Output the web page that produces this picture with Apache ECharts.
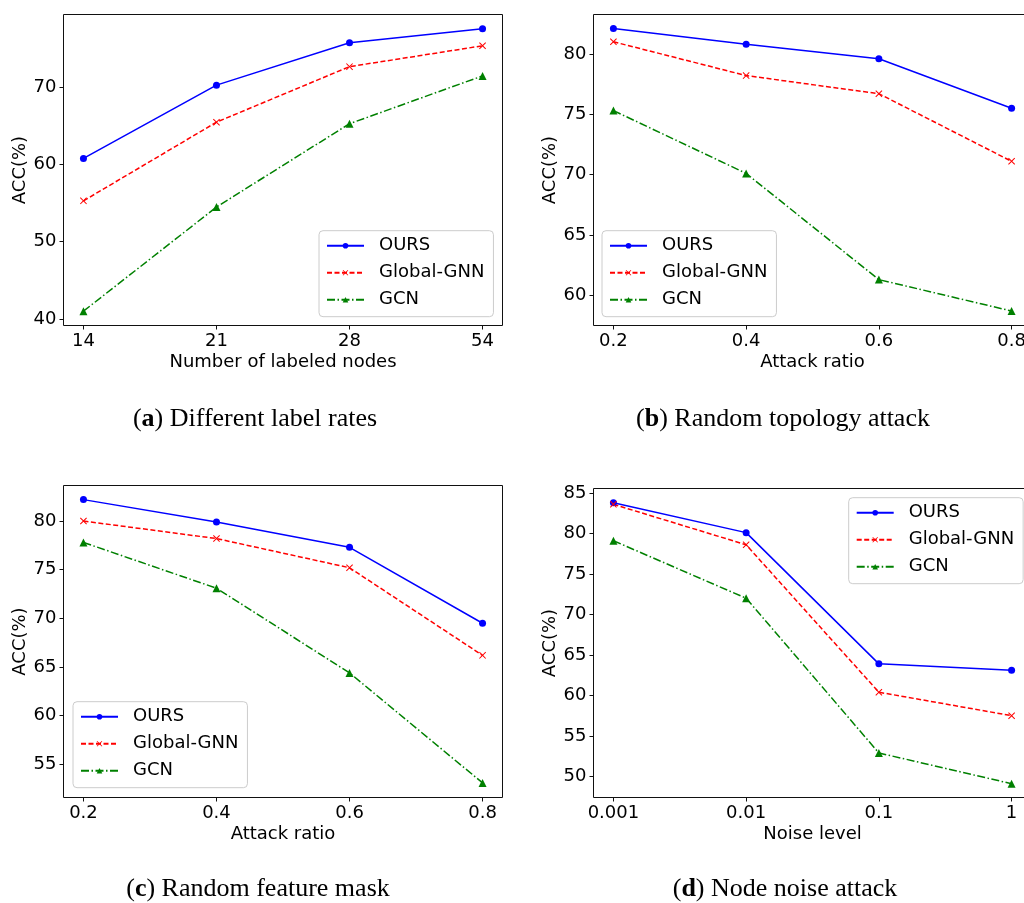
<!DOCTYPE html>
<html><head><meta charset="utf-8">
<script src="https://cdn.jsdelivr.net/npm/echarts@6/dist/echarts.min.js"></script>
<style>html,body{margin:0;padding:0;background:#fff}#c{width:1024px;height:903px}</style>
</head><body><div id="c"></div>
<script>
const seriesNames = ['OURS', 'Global-GNN', 'GCN'];

// (a) Different label rates
const labelRateTicks = ['14', '21', '28', '54'];
const labelRateOURS = [60.8, 70.3, 75.8, 77.6];
const labelRateGlobal = [55.3, 65.5, 72.7, 75.4];
const labelRateGCN = [41.0, 54.5, 65.3, 71.5];
const labelRateYTicks = [40, 50, 60, 70];

// (b) Random topology attack
const topoRatios = [0.2, 0.4, 0.6, 0.8];
const topoOURS = [82.1, 80.8, 79.6, 75.5];
const topoGlobal = [81.0, 78.2, 76.7, 71.1];
const topoGCN = [75.3, 70.1, 61.3, 58.7];
const topoYTicks = [60, 65, 70, 75, 80];

// (c) Random feature mask
const maskRatios = [0.2, 0.4, 0.6, 0.8];
const maskOURS = [82.2, 79.9, 77.3, 69.5];
const maskGlobal = [80.0, 78.2, 75.2, 66.2];
const maskGCN = [77.8, 73.1, 64.4, 53.1];
const maskYTicks = [55, 60, 65, 70, 75, 80];

// (d) Node noise attack
const noiseTicks = ['0.001', '0.01', '0.1', '1'];
const noiseOURS = [83.8, 80.1, 63.9, 63.1];
const noiseGlobal = [83.6, 78.6, 60.4, 57.5];
const noiseGCN = [79.1, 72.0, 52.9, 49.1];
const noiseYTicks = [50, 55, 60, 65, 70, 75, 80, 85];

const captionLetters = ['a', 'b', 'c', 'd'];
const captionTexts = ['Different label rates', 'Random topology attack', 'Random feature mask', 'Node noise attack'];
const xNames = ['Number of labeled nodes', 'Attack ratio', 'Attack ratio', 'Noise level'];
const yName = 'ACC(%)';

const FONT = 'DejaVu Sans';
const FS = 18;
const idx = [0, 1, 2, 3];

const panels = [
  {grid: {left: 63.5, top: 14.5, width: 439, height: 311}, xs: idx, xTicks: idx, xFmt: v => labelRateTicks[Math.round(v)], xMin: -0.15, xMax: 3.15,
   yMin: 39.14, yMax: 79.46, yTicks: labelRateYTicks, data: [labelRateOURS, labelRateGlobal, labelRateGCN],
   legend: {left: 319, top: 230.7}, cap: {x: 255, y: 419}},
  {grid: {left: 593.5, top: 14.5, width: 438, height: 311}, xs: topoRatios, xTicks: topoRatios, xFmt: v => v.toFixed(1), xMin: 0.17, xMax: 0.83,
   yMin: 57.5, yMax: 83.26, yTicks: topoYTicks, data: [topoOURS, topoGlobal, topoGCN],
   legend: {left: 602, top: 230.7}, cap: {x: 783, y: 419}},
  {grid: {left: 63.5, top: 485.5, width: 439, height: 312}, xs: maskRatios, xTicks: maskRatios, xFmt: v => v.toFixed(1), xMin: 0.17, xMax: 0.83,
   yMin: 51.6, yMax: 83.65, yTicks: maskYTicks, data: [maskOURS, maskGlobal, maskGCN],
   legend: {left: 73, top: 701.7}, cap: {x: 258, y: 889}},
  {grid: {left: 593.5, top: 488.5, width: 438, height: 309}, xs: idx, xTicks: idx, xFmt: v => noiseTicks[Math.round(v)], xMin: -0.15, xMax: 3.15,
   yMin: 47.4, yMax: 85.55, yTicks: noiseYTicks, data: [noiseOURS, noiseGlobal, noiseGCN],
   legend: {left: 848.7, top: 497.7}, cap: {x: 785, y: 889}}
];

const styles = [
  {color: '#0000ff', symbol: 'circle', size: 7, type: 'solid'},
  {color: '#ff0000', symbol: 'path://M0,1L1,0L5,4L9,0L10,1L6,5L10,9L9,10L5,6L1,10L0,9L4,5Z', size: 7, type: [5, 2.5]},
  {color: '#008000', symbol: 'triangle', size: 8, type: [8, 2.5, 1.5, 2.5]}
];

const grids = [], xAxes = [], yAxes = [], series = [], legends = [], graphics = [];
panels.forEach((p, i) => {
  grids.push(Object.assign({show: true, borderColor: '#111', borderWidth: 1, backgroundColor: 'transparent',
    containLabel: false, outerBoundsMode: 'none'}, p.grid));
  xAxes.push({
    type: 'value', gridIndex: i, min: p.xMin, max: p.xMax,
    axisLine: {show: false, onZero: false}, splitLine: {show: false},
    axisTick: {show: true, inside: false, length: 4, customValues: p.xTicks, lineStyle: {color: '#111', width: 1}},
    axisLabel: {show: true, customValues: p.xTicks, formatter: p.xFmt, margin: 7, color: '#000', fontFamily: FONT, fontSize: FS},
    name: xNames[i], nameLocation: 'middle', nameGap: 28,
    nameTextStyle: {color: '#000', fontFamily: FONT, fontSize: FS}
  });
  yAxes.push({
    type: 'value', gridIndex: i, min: p.yMin, max: p.yMax,
    axisLine: {show: false, onZero: false}, splitLine: {show: false},
    axisTick: {show: true, inside: false, length: 4, customValues: p.yTicks, lineStyle: {color: '#111', width: 1}},
    axisLabel: {show: true, customValues: p.yTicks, margin: 7, color: '#000', fontFamily: FONT, fontSize: FS},
    name: yName, nameLocation: 'middle', nameGap: 34,
    nameTextStyle: {color: '#000', fontFamily: FONT, fontSize: FS}
  });
  p.data.forEach((vals, s) => {
    const st = styles[s];
    series.push({
      type: 'line', name: seriesNames[s], xAxisIndex: i, yAxisIndex: i,
      data: vals.map((v, k) => [p.xs[k], v]),
      symbol: st.symbol, symbolSize: st.size, showSymbol: true,
      lineStyle: {color: st.color, width: 1.5, type: st.type},
      itemStyle: {color: st.color},
      emphasis: {disabled: true}, animation: false
    });
  });
  legends.push({
    orient: 'vertical', left: p.legend.left, top: p.legend.top,
    padding: [6, 9, 8, 7], itemWidth: 37, itemHeight: 7, itemGap: 9,
    backgroundColor: 'rgba(255,255,255,0.8)', borderColor: '#cccccc', borderWidth: 1, borderRadius: 4,
    selectedMode: false, data: seriesNames,
    textStyle: {color: '#000', fontFamily: FONT, fontSize: FS, padding: [0, 0, 0, 10]}
  });
  graphics.push({
    type: 'text', x: p.cap.x, y: p.cap.y,
    style: {
      text: '({b|' + captionLetters[i] + '}) ' + captionTexts[i],
      fill: '#000', font: '26px "Liberation Serif"', align: 'center', verticalAlign: 'middle',
      rich: {b: {fontWeight: 'bold', fontFamily: 'Liberation Serif', fontSize: 26, fill: '#000'}}
    }
  });
});

const chart = echarts.init(document.getElementById('c'), null, {renderer: 'canvas'});
chart.setOption({
  animation: false,
  backgroundColor: '#fff',
  grid: grids, xAxis: xAxes, yAxis: yAxes, series: series, legend: legends, graphic: graphics
});
</script>
</body></html>
